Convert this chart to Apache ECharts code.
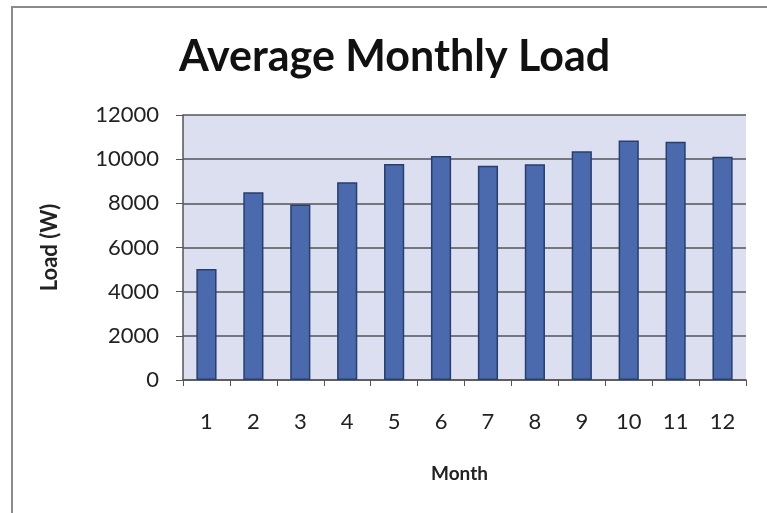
<!DOCTYPE html>
<html>
<head>
<meta charset="utf-8">
<script src="https://cdn.jsdelivr.net/npm/echarts@6/dist/echarts.min.js"></script>
<style>
  html, body { margin: 0; padding: 0; background: #fff; }
  #frame { position: absolute; left: 11px; top: 6px; width: 800px; height: 600px;
           border-left: 2px solid #8a8a8a; border-top: 2px solid #8a8a8a; }
  #chart { position: absolute; left: 0; top: 0; width: 767px; height: 513px; }
</style>
</head>
<body>
<div id="frame"></div>
<div id="chart"></div>
<script>
// months and average load
const months = ['1', '2', '3', '4', '5', '6', '7', '8', '9', '10', '11', '12'];
const loadW = [5030, 8500, 7950, 8950, 9780, 10140, 9700, 9770, 10360, 10850, 10790, 10110];
const yTicks = { min: 0, max: 12000, step: 2000 };

const font = 'Lato, "Open Sans", sans-serif';

const chart = echarts.init(document.getElementById('chart'));
chart.setOption({
  animation: false,
  title: {
    text: 'Average Monthly Load',
    left: 174,
    top: 31,
    textStyle: { fontFamily: font, fontSize: 43, fontWeight: 'bold', color: '#111' }
  },
  grid: {
    left: 183, right: 21, top: 115, bottom: 133,
    show: true, backgroundColor: '#dcdff0', borderWidth: 0
  },
  xAxis: {
    type: 'category',
    data: months,
    name: 'Month',
    nameLocation: 'middle',
    nameGap: 84,
    nameTextStyle: { fontFamily: font, fontSize: 19, fontWeight: 'bold', color: '#222',
                     padding: [0, 10, 0, 0] },
    axisLine: { lineStyle: { color: '#555', width: 1.5 } },
    axisTick: { show: true, length: 6, lineStyle: { color: '#555' } },
    axisLabel: { margin: 31, fontFamily: font, fontSize: 22, color: '#222' }
  },
  yAxis: {
    type: 'value',
    min: yTicks.min, max: yTicks.max, interval: yTicks.step,
    name: 'Load (W)',
    nameLocation: 'middle',
    nameGap: 122,
    nameTextStyle: { fontFamily: font, fontSize: 22, fontWeight: 'bold', color: '#222' },
    axisLine: { show: true, lineStyle: { color: '#555', width: 1.5 } },
    axisTick: { show: true, length: 7, lineStyle: { color: '#555' } },
    axisLabel: { margin: 24, fontFamily: font, fontSize: 22, color: '#222',
                 formatter: v => String(v) },
    splitLine: { lineStyle: { color: '#555', width: 1.5 } }
  },
  series: [{
    type: 'bar',
    data: loadW,
    barWidth: '43%',
    itemStyle: { color: '#4a6aad', borderColor: '#263f6d', borderWidth: 1.5 }
  }]
});
</script>
</body>
</html>
